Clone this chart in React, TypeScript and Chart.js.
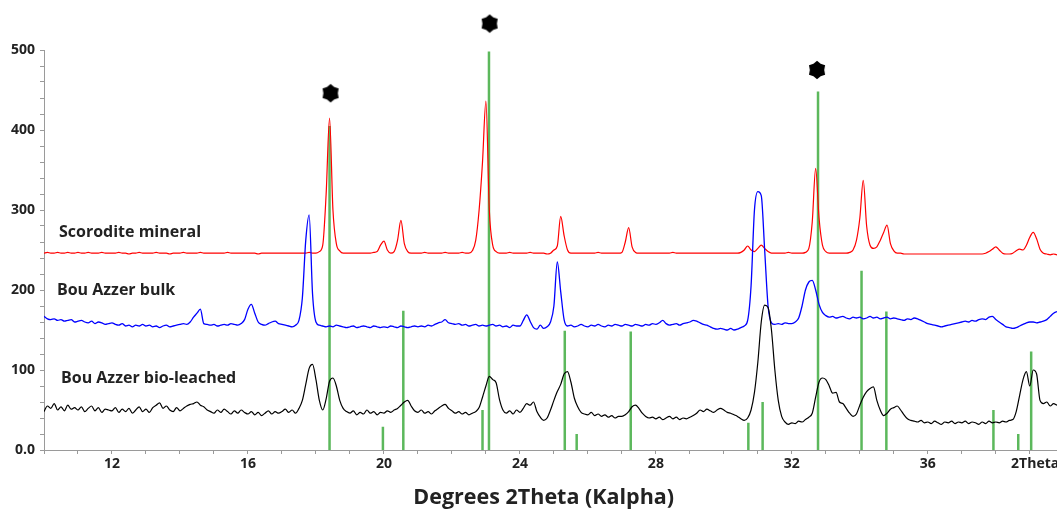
import React, { useEffect, useRef } from "react";
import { Chart, registerables } from "chart.js";

Chart.register(...registerables);

// 2Theta sampling of the three scans (degrees)
const X_START = 10;
const X_STEP = 0.1;

// Scorodite mineral (red), 10.0 .. 39.9
const SCORODITE = [
  246,247,246,246,247,246,246,247,246,246,
  247,246,246,247,246,246,246,247,246,246,
  246,246,247,246,246,245,246,246,247,246,
  246,246,246,247,246,246,246,245,246,246,
  246,247,246,246,246,246,247,246,246,246,
  246,246,246,246,247,246,246,246,246,246,
  246,246,246,245,246,246,246,246,246,246,
  246,246,246,246,246,246,246,246,247,246,
  246,248,256,320,415,300,258,249,246,246,
  246,246,246,246,246,246,246,247,248,256,
  261,250,246,248,262,287,258,248,246,246,
  246,246,247,246,246,246,246,246,247,246,
  246,246,246,247,246,246,249,262,300,360,
  436,300,256,248,246,246,246,247,246,246,
  246,246,246,247,246,246,246,246,245,246,
  250,255,292,268,250,246,246,246,246,246,
  246,246,246,247,246,246,246,246,246,246,
  247,260,278,254,247,246,246,246,246,246,
  246,246,246,246,246,247,246,246,246,246,
  246,246,246,246,246,246,246,246,246,246,
  246,246,246,246,246,247,250,255,250,248,
  252,256,252,248,246,246,246,246,246,247,
  246,246,246,246,247,252,285,352,290,256,
  248,246,246,246,246,246,246,247,250,262,
  290,337,280,256,252,254,262,272,281,258,
  249,246,246,245,245,245,245,245,245,245,
  245,245,245,245,245,245,245,245,245,245,
  245,245,245,245,245,245,245,246,248,251,
  254,250,246,245,245,246,249,251,250,256,
  266,272,264,251,246,245,244,245,244,244,
];

// Bou Azzer bulk (blue)
const BULK = [
  167,164,163,164,162,163,161,162,163,160,
  161,162,160,159,161,158,160,159,157,158,
  159,157,156,158,155,156,154,156,155,157,
  155,156,154,155,153,155,156,154,155,156,
  157,158,157,160,166,171,176,158,157,156,
  157,155,156,157,156,158,157,156,158,163,
  176,182,171,160,157,156,158,160,161,158,
  157,156,155,154,156,162,190,262,294,195,
  160,156,155,154,155,154,156,155,154,153,
  154,155,153,154,155,154,153,155,154,153,
  154,153,155,154,153,155,154,153,154,155,
  154,155,154,156,155,157,159,160,163,159,
  158,157,158,156,157,155,156,157,155,156,
  155,156,157,155,156,154,155,153,156,155,
  155,162,169,161,153,151,156,152,154,160,
  180,235,198,163,155,156,154,155,157,155,
  154,156,155,157,155,154,156,155,157,156,
  155,157,156,155,157,156,155,157,156,158,
  157,159,162,158,156,157,158,156,158,159,
  160,162,161,159,157,156,154,152,151,152,
  151,150,152,150,151,153,155,162,205,300,
  323,318,250,180,159,157,158,157,159,158,
  158,160,165,180,200,210,212,200,182,172,
  168,166,167,165,166,167,165,164,166,165,
  166,164,165,167,165,166,164,165,166,164,
  165,164,163,162,164,163,165,164,162,160,
  158,157,156,155,154,155,156,157,158,159,
  160,161,160,162,161,163,164,163,166,167,
  163,160,157,154,153,152,153,155,157,159,
  160,160,159,160,161,163,167,171,173,174,
];

// Bou Azzer bio-leached (black)
const BIOLEACHED = [
  48,55,52,58,50,54,49,56,51,53,
  50,54,48,52,55,49,53,47,51,50,
  49,53,47,51,48,52,46,50,54,48,
  51,47,53,56,59,52,55,50,48,53,
  49,52,55,57,58,60,56,54,50,48,
  46,50,47,51,48,45,49,46,50,47,
  45,48,44,47,43,46,49,45,48,46,
  48,51,47,50,46,52,62,82,102,107,
  88,62,50,64,86,90,80,62,52,48,
  46,49,44,47,45,50,46,48,44,47,
  46,49,47,50,52,56,60,62,55,49,
  47,50,46,48,45,49,52,55,57,52,
  49,46,48,45,47,44,46,48,53,66,
  80,92,88,84,63,50,46,49,45,50,
  47,52,58,56,60,48,41,37,40,50,
  62,73,82,95,98,85,65,54,47,45,
  44,47,43,45,42,44,41,43,40,42,
  42,44,48,54,56,52,46,42,40,41,
  39,41,38,40,42,39,41,38,40,39,
  41,43,46,50,48,51,49,47,50,52,
  50,47,46,44,42,39,37,40,50,72,
  110,160,181,178,150,100,62,42,35,32,
  34,33,36,35,38,41,46,66,85,90,
  88,80,71,72,60,58,52,46,42,45,
  56,66,73,77,79,62,50,43,46,51,
  53,55,50,44,39,37,36,35,37,34,
  35,33,36,34,32,35,34,36,33,35,
  34,36,33,35,34,32,35,33,36,34,
  35,34,36,35,37,38,48,68,88,98,
  80,100,95,62,58,60,55,58,56,55,
];

// Reference pattern sticks (green)
const STICK_POS = [18.4, 19.97, 20.57, 22.9, 23.09, 25.32, 25.67, 27.26, 30.72, 31.14, 32.77, 34.05, 34.78, 37.93, 38.66, 39.04];
const STICK_INT = [405, 29, 174, 50, 498, 149, 20, 148, 34, 60, 448, 224, 173, 50, 20, 123];

// Marked peaks (stars)
const STAR_X = [18.43, 23.11, 32.74];
const STAR_Y = [446, 533, 475];

// Series labels
const LABEL_TEXT = ["Scorodite mineral", "Bou Azzer bulk", "Bou Azzer bio-leached"];
const LABEL_X = [10.44, 10.38, 10.5];
const LABEL_Y = [272, 199, 90];

const X_TITLE = "Degrees 2Theta (Kalpha)";
const X_TITLE_AT = 24.7;
const X_UNIT_LABEL = "2Theta";
const X_UNIT_AT = 38.45;
const X_LABEL_TICKS = [12, 16, 20, 24, 28, 32, 36];

const FONT = '"Open Sans", "DejaVu Sans", sans-serif';
const TEXT_COLOR = "#222";
const AXIS_COLOR = "#9a9a9a";

function toPoints(values: number[]) {
  return values.map((v, i) => ({ x: +(X_START + i * X_STEP).toFixed(2), y: v }));
}

function makeStar(): HTMLCanvasElement {
  const c = document.createElement("canvas");
  c.width = 20;
  c.height = 20;
  const g = c.getContext("2d")!;
  g.fillStyle = "#000";
  g.beginPath();
  for (let i = 0; i < 12; i++) {
    const a = -Math.PI / 2 + (i * Math.PI) / 6;
    const r = i % 2 === 0 ? 9.3 : 7.2;
    const px = 10 + r * Math.cos(a);
    const py = 10 + r * Math.sin(a);
    if (i === 0) g.moveTo(px, py);
    else g.lineTo(px, py);
  }
  g.closePath();
  g.fill();
  return c;
}

const textPlugin = {
  id: "xrdText",
  afterDatasetsDraw(chart: any) {
    const { ctx, scales } = chart;
    const xs = scales.x;
    const ys = scales.y;
    const star = (chart as any).$star as HTMLCanvasElement | undefined;
    ctx.save();
    if (star) {
      STAR_X.forEach((x, i) => {
        const px = xs.getPixelForValue(x);
        const py = ys.getPixelForValue(STAR_Y[i]);
        ctx.drawImage(star, px - 10, py - 10);
      });
    }
    ctx.fillStyle = TEXT_COLOR;
    ctx.font = `bold 16px ${FONT}`;
    ctx.textBaseline = "middle";
    ctx.textAlign = "left";
    LABEL_TEXT.forEach((t, i) => {
      ctx.fillText(t, xs.getPixelForValue(LABEL_X[i]), ys.getPixelForValue(LABEL_Y[i]));
    });
    ctx.font = `bold 14px ${FONT}`;
    ctx.fillText(X_UNIT_LABEL, xs.getPixelForValue(X_UNIT_AT), ys.bottom + 14);
    ctx.font = `bold 21.5px ${FONT}`;
    ctx.textAlign = "center";
    ctx.fillText(X_TITLE, xs.getPixelForValue(X_TITLE_AT), ys.bottom + 48);
    ctx.restore();
  },
};

export default function App() {
  const ref = useRef<HTMLCanvasElement | null>(null);

  useEffect(() => {
    if (!ref.current) return;
    const stickPts: any[] = [];
    STICK_POS.forEach((p, i) => {
      stickPts.push({ x: p, y: 0 }, { x: p, y: STICK_INT[i] }, { x: p, y: null });
    });

    const spectrum = {
      pointRadius: 0,
      cubicInterpolationMode: "monotone",
    };

    const chart = new Chart(ref.current, {
      type: "line",
      data: {
        datasets: [
          {
            label: "Bou Azzer bio-leached",
            data: toPoints(BIOLEACHED),
            borderColor: "#000000",
            borderWidth: 1.2,
            ...spectrum,
          },
          {
            label: "Bou Azzer bulk",
            data: toPoints(BULK),
            borderColor: "#0000ff",
            borderWidth: 1.3,
            ...spectrum,
          },
          {
            label: "Scorodite mineral",
            data: toPoints(SCORODITE),
            borderColor: "#ff0000",
            borderWidth: 1.2,
            ...spectrum,
          },
          {
            label: "reference",
            data: stickPts,
            borderColor: "#5cb85c",
            borderWidth: 2.5,
            pointRadius: 0,
            spanGaps: false,
            borderCapStyle: "butt",
          },
        ],
      },
      options: {
        responsive: false,
        animation: false,
        events: [],
        layout: { padding: { top: 50, right: 0, left: 0, bottom: 0 } },
        plugins: {
          legend: { display: false },
          tooltip: { enabled: false },
        },
        scales: {
          x: {
            type: "linear",
            min: 10,
            max: 39.8,
            border: { color: AXIS_COLOR, width: 1 },
            grid: { display: true, drawOnChartArea: false, drawTicks: true, tickLength: 4, color: AXIS_COLOR },
            ticks: {
              stepSize: 1,
              autoSkip: false,
              includeBounds: false,
              maxRotation: 0,
              maxTicksLimit: 100,
              padding: 2,
              color: TEXT_COLOR,
              font: { family: FONT, size: 14, weight: "bold" },
              callback: (v: any) => (X_LABEL_TICKS.includes(Math.round(Number(v) * 100) / 100) ? String(v) : ""),
            },
            title: { display: false },
            afterFit: (s: any) => {
              s.height = 61;
            },
          },
          y: {
            type: "linear",
            min: 0,
            max: 500,
            border: { color: AXIS_COLOR, width: 1 },
            grid: { display: true, drawOnChartArea: false, drawTicks: true, tickLength: 4, color: AXIS_COLOR },
            ticks: {
              stepSize: 20,
              autoSkip: false,
              maxTicksLimit: 100,
              padding: 5,
              color: TEXT_COLOR,
              font: { family: FONT, size: 14, weight: "bold" },
              callback: (v: any) => {
                const n = Number(v);
                if (n % 100 !== 0) return "";
                return n === 0 ? "0.0" : String(n);
              },
            },
            afterFit: (s: any) => {
              s.width = 44;
            },
          },
        },
      } as any,
      plugins: [
        {
          id: "starInit",
          beforeInit(c: any) {
            c.$star = makeStar();
          },
        },
        textPlugin,
      ],
    });
    return () => chart.destroy();
  }, []);

  return (
    <div style={{ position: "absolute", left: 0, top: 0, width: 1057, height: 511, background: "#fff" }}>
      <canvas ref={ref} width={1057} height={511} style={{ display: "block" }} />
    </div>
  );
}
